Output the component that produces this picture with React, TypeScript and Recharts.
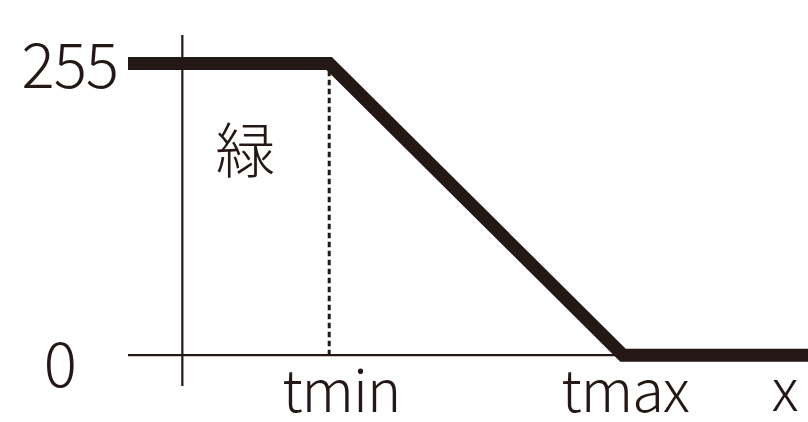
import { ComposedChart, Line, XAxis, YAxis, ReferenceLine, ReferenceDot } from "recharts";

// thick curve: green channel vs x
const xValues = [-0.37, 1, 3, 4.26];
const greenValues = [255, 255, 0, 0];

const tMin = 1;
const tMax = 3;
const xTicks = [tMin, tMax];
const xTickLabels = ["tmin", "tmax"];
const yTicks = [0, 255];
const channelLabel = "緑";
const channelLabelAt = { x: 0.43, y: 178 };

const data = xValues.map((x, i) => ({ x, g: greenValues[i] }));

const ink = "#231815";
const font = "'Noto Sans CJK JP', 'Noto Sans', sans-serif";
const textStyle = { fontSize: 58, fontFamily: font, fontWeight: 300, fill: ink };

// per-tick nudges so labels sit where the drawing has them
const yTickNudge: Record<number, { dx: number; dy: number }> = {
  0: { dx: -52, dy: 32 },
  255: { dx: -10, dy: 24 },
};
const xTickNudge: Record<number, number> = { 1: 12, 3: 2 };

const YTick = (props: any) => {
  const v = props.payload.value as number;
  const n = yTickNudge[v] ?? { dx: -10, dy: 20 };
  return (
    <text x={props.x + n.dx} y={props.y + n.dy} textAnchor="end" letterSpacing={-1} {...textStyle} fontSize={62}>
      {v}
    </text>
  );
};

const XTick = (props: any) => {
  const v = props.payload.value as number;
  const i = xTicks.indexOf(v);
  return (
    <text x={props.x + (xTickNudge[v] ?? 0)} y={props.y + 26} textAnchor="middle" letterSpacing={-1} {...textStyle}>
      {xTickLabels[i]}
    </text>
  );
};

export default function App() {
  return (
    <div style={{ width: 808, height: 422, background: "#fff" }}>
      <style>{"body{margin:0}"}</style>
      <ComposedChart width={808} height={422} data={data} margin={{ top: 35, right: 0, left: 0, bottom: 0 }}>
        <XAxis
          dataKey="x"
          type="number"
          domain={[-0.37, 4.26]}
          allowDataOverflow
          ticks={xTicks}
          axisLine={false}
          tickLine={false}
          tickSize={0}
          tickMargin={0}
          height={36}
          tick={XTick}
          label={(p: any) => (
            <text x={p.viewBox.x + p.viewBox.width - 23} y={p.viewBox.y + 25} textAnchor="middle" {...textStyle}>
              x
            </text>
          )}
        />
        <YAxis
          type="number"
          domain={[-27, 280]}
          allowDataOverflow
          ticks={yTicks}
          axisLine={false}
          tickLine={false}
          tickSize={0}
          tickMargin={0}
          width={128}
          tick={YTick}
        />
        <ReferenceLine x={0} stroke={ink} strokeWidth={2.2} />
        <ReferenceLine y={0} stroke={ink} strokeWidth={2.2} />
        <ReferenceLine
          segment={[
            { x: tMin, y: 0 },
            { x: tMin, y: 255 },
          ]}
          stroke={ink}
          strokeWidth={3}
          strokeDasharray="5.5 3.5"
        />
        <ReferenceDot
          x={channelLabelAt.x}
          y={channelLabelAt.y}
          r={0}
          fill="none"
          stroke="none"
          label={{ value: channelLabel, position: "center", fontSize: 60, fontFamily: font, fontWeight: 300, fill: ink }}
        />
        <Line
          type="linear"
          dataKey="g"
          stroke={ink}
          strokeWidth={13}
          dot={false}
          activeDot={false}
          isAnimationActive={false}
        />
      </ComposedChart>
    </div>
  );
}
